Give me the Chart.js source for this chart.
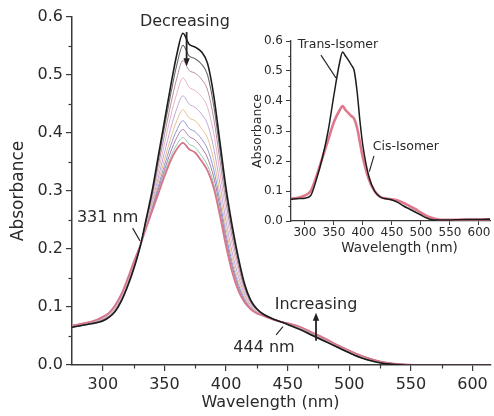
<!DOCTYPE html>
<html><head><meta charset="utf-8">
<script src="https://cdn.jsdelivr.net/npm/chart.js@4"></script>
<style>
html,body{margin:0;padding:0;background:#fff;}
#wrap{position:relative;width:494px;height:416px;overflow:hidden;}
#main{position:absolute;left:0;top:0;}
#inset{position:absolute;left:250px;top:20px;}
</style></head><body>
<div id="wrap"><canvas id="main" width="494" height="416"></canvas><canvas id="inset" width="244" height="245"></canvas></div>
<script>
// ---------- main panel data ----------
const wavelengths = [275,285,295,300,305,310,315,320,325,331,335,340,345,350,355,360,365,370,375,380,385,390,395,400,405,410,415,420,425,430,440,450,460,470,480,490,500,510,520,530,545,560,585,615];
const transSpec = [.065,.069,.073,.076,.082,.092,.110,.135,.165,.210,.250,.300,.360,.420,.480,.535,.572,.553,.548,.540,.520,.465,.385,.305,.240,.185,.140,.112,.097,.088,.078,.070,.061,.051,.041,.031,.021,.012,.006,.002,0,0,0,0];
const specA = [.065,.069,.074,.077,.083,.093,.111,.136,.166,.210,.248,.296,.353,.410,.466,.517,.551,.533,.528,.519,.500,.447,.371,.294,.231,.179,.136,.110,.096,.088,.078,.070,.062,.052,.042,.031,.021,.012,.006,.002,0,0,0,0];
const specB = [.066,.070,.074,.078,.084,.095,.113,.138,.168,.210,.246,.291,.344,.396,.448,.494,.525,.508,.503,.493,.474,.425,.353,.280,.220,.171,.132,.108,.095,.087,.078,.071,.062,.052,.042,.032,.022,.013,.007,.003,0,0,0,0];
const specC = [.066,.070,.075,.079,.085,.097,.115,.140,.170,.210,.244,.286,.333,.381,.428,.468,.495,.479,.473,.463,.444,.399,.333,.264,.207,.162,.127,.105,.094,.087,.078,.071,.063,.053,.043,.033,.023,.014,.007,.003,.001,0,0,0];
const specD = [.067,.071,.076,.080,.087,.098,.117,.142,.172,.210,.241,.280,.323,.366,.407,.442,.464,.450,.444,.433,.415,.374,.313,.248,.194,.153,.122,.103,.092,.086,.077,.071,.064,.054,.044,.033,.023,.014,.008,.003,.001,0,0,0];
const specE = [.067,.071,.077,.081,.088,.100,.118,.144,.173,.210,.240,.276,.315,.354,.390,.421,.440,.426,.421,.408,.391,.353,.296,.235,.184,.145,.118,.101,.091,.086,.077,.071,.065,.055,.045,.034,.024,.015,.008,.003,.001,0,0,0];
const specF = [.067,.071,.077,.082,.088,.101,.120,.145,.175,.210,.238,.272,.308,.344,.378,.405,.421,.408,.402,.390,.372,.337,.283,.225,.176,.139,.114,.099,.091,.086,.077,.072,.065,.055,.045,.034,.024,.015,.008,.004,.001,0,0,0];
const specG = [.068,.072,.077,.082,.089,.102,.121,.146,.176,.210,.237,.269,.303,.336,.367,.392,.406,.394,.388,.375,.357,.324,.273,.217,.170,.135,.112,.098,.090,.085,.077,.072,.065,.055,.045,.035,.025,.016,.009,.004,.001,0,0,0];
const specH = [.068,.072,.078,.083,.090,.102,.121,.147,.176,.210,.236,.267,.298,.330,.358,.380,.392,.381,.375,.361,.344,.313,.264,.210,.164,.131,.110,.097,.089,.085,.077,.072,.066,.056,.046,.035,.025,.016,.009,.004,.001,0,0,0];
const cisSpec = [.068,.072,.078,.083,.090,.103,.122,.148,.177,.210,.235,.265,.295,.325,.352,.372,.383,.372,.366,.352,.335,.305,.258,.205,.160,.128,.108,.096,.089,.085,.077,.072,.066,.056,.046,.035,.025,.016,.009,.004,.001,0,0,0];

const mainXTicks = [300,350,400,450,500,550,600];
const mainXMinor = [325,375,425,475,525,575];
const mainYTicks = [0,0.1,0.2,0.3,0.4,0.5,0.6];
const mainYMinor = [0.05,0.15,0.25,0.35,0.45,0.55];

// ---------- inset data ----------
const insetWl = [275,290,300,310,320,330,340,350,360,365,370,380,385,390,395,400,410,420,430,440,450,460,470,480,490,500,510,520,530,540,560,580,600,620];
const insetTrans = [.072,.075,.076,.085,.140,.210,.300,.420,.530,.563,.550,.520,.500,.430,.330,.250,.150,.100,.080,.074,.070,.062,.050,.040,.030,.020,.010,.004,.003,.003,.004,.005,.005,.006];
const insetCis = [.075,.078,.085,.100,.150,.210,.270,.330,.370,.383,.370,.350,.340,.310,.260,.210,.140,.100,.080,.075,.072,.068,.060,.050,.040,.028,.017,.010,.005,.004,.004,.005,.005,.006];
const insetXTicks = [300,350,400,450,500,550,600];
const insetYTicks = [0,0.1,0.2,0.3,0.4,0.5,0.6];
const insetYMinor = [0.05,0.15,0.25,0.35,0.45,0.55];

// ---------- annotations (data coordinates) ----------
const mainLabels = [
  {text:'Decreasing', x:366.6, y:0.591, align:'center'},
  {text:'331 nm', x:279, y:0.253, align:'left'},
  {text:'Increasing', x:473, y:0.103, align:'center'},
  {text:'444 nm', x:430.8, y:0.029, align:'center'}
];
const mainArrows = [
  {x1:368, y1:0.574, x2:368, y2:0.515, head:true},
  {x1:473, y1:0.042, x2:473, y2:0.09, head:true},
  {x1:324.2, y1:0.236, x2:330.2, y2:0.214, head:false},
  {x1:440.6, y1:0.052, x2:446.2, y2:0.066, head:false}
];
const insetLabels = [
  {text:'Trans-Isomer', x:357, y:0.587, align:'center'},
  {text:'Cis-Isomer', x:474, y:0.247, align:'center'}
];
const insetArrows = [
  {x1:327.6, y1:0.553, x2:353.4, y2:0.477, head:false},
  {x1:419, y1:0.217, x2:411, y2:0.165, head:false}
];

const FONT = "'DejaVu Sans', sans-serif";
const AX = '#3a3a3a';
const TXT = '#2a2a2a';

function pts(xs, ys){ return xs.map((x,i)=>({x:x, y:ys[i]})); }

const overlayPlugin = {
  id:'overlay',
  afterDraw(chart){
    const o = chart.options.plugins.overlay; if(!o) return;
    const ctx = chart.ctx, xs = chart.scales.x, ys = chart.scales.y;
    ctx.save();
    ctx.strokeStyle = AX; ctx.lineWidth = 1.2;
    (o.xMinor||[]).forEach(v=>{ const px = Math.round(xs.getPixelForValue(v))+0.5;
      ctx.beginPath(); ctx.moveTo(px, ys.bottom); ctx.lineTo(px, ys.bottom+o.minorLen); ctx.stroke(); });
    (o.yMinor||[]).forEach(v=>{ const py = Math.round(ys.getPixelForValue(v))+0.5;
      ctx.beginPath(); ctx.moveTo(xs.left, py); ctx.lineTo(xs.left-o.minorLen, py); ctx.stroke(); });
    ctx.fillStyle = TXT;
    ctx.textBaseline = 'middle';
    // x-axis title
    ctx.font = o.xTitleSize + 'px ' + FONT;
    ctx.textAlign = 'center';
    ctx.fillText(o.xTitle, (xs.left + xs.right)/2 + o.xTitleShift, o.xTitleY);
    ctx.font = o.fontSize + 'px ' + FONT;
    o.labels.forEach(l=>{ ctx.textAlign = l.align;
      ctx.fillText(l.text, xs.getPixelForValue(l.x), ys.getPixelForValue(l.y)); });
    ctx.strokeStyle = '#222'; ctx.fillStyle = '#222';
    o.arrows.forEach(a=>{
      const x1 = xs.getPixelForValue(a.x1), y1 = ys.getPixelForValue(a.y1);
      const x2 = xs.getPixelForValue(a.x2), y2 = ys.getPixelForValue(a.y2);
      ctx.lineWidth = a.head ? 1.8 : 1.1;
      const ang = Math.atan2(y2-y1, x2-x1);
      const hl = a.head ? 8 : 0;
      ctx.beginPath(); ctx.moveTo(x1,y1); ctx.lineTo(x2 - Math.cos(ang)*hl*0.6, y2 - Math.sin(ang)*hl*0.6); ctx.stroke();
      if(a.head){
        ctx.beginPath();
        ctx.moveTo(x2,y2);
        ctx.lineTo(x2 - Math.cos(ang)*hl + Math.sin(ang)*3.2, y2 - Math.sin(ang)*hl - Math.cos(ang)*3.2);
        ctx.lineTo(x2 - Math.cos(ang)*hl - Math.sin(ang)*3.2, y2 - Math.sin(ang)*hl + Math.cos(ang)*3.2);
        ctx.closePath(); ctx.fill();
      }
    });
    ctx.restore();
  }
};

function ds(data, color, width, order){
  return {data:pts(wavelengths, data), borderColor:color, borderWidth:width, pointRadius:0,
          cubicInterpolationMode:'monotone', fill:false, order:order};
}

new Chart(document.getElementById('main'), {
  type:'line',
  data:{datasets:[
    ds(transSpec,'#1c1c1c',1.6,0),
    ds(cisSpec,'#d6768a',1.8,1),
    ds(specA,'#6a6a6a',1.1,2),
    ds(specB,'#b98aa0',1,3),
    ds(specC,'#e3b3c4',1,4),
    ds(specD,'#c2a6d8',1,5),
    ds(specE,'#e6c08e',1,6),
    ds(specF,'#8e96cc',1,7),
    ds(specG,'#a878a8',1,8),
    ds(specH,'#92c6a8',1,9)
  ]},
  options:{
    responsive:false, animation:false, devicePixelRatio:1,
    layout:{padding:{top:17,right:3,left:0,bottom:0}},
    plugins:{legend:{display:false}, tooltip:{enabled:false},
      overlay:{xMinor:mainXMinor, yMinor:mainYMinor, minorLen:3.5, labels:mainLabels, arrows:mainArrows, fontSize:16,
               xTitle:'Wavelength (nm)', xTitleSize:16, xTitleShift:-11, xTitleY:403}},
    scales:{
      x:{type:'linear', min:275, max:615,
        afterBuildTicks:s=>{s.ticks = mainXTicks.map(v=>({value:v}));},
        afterFit:s=>{s.height = 51;},
        ticks:{font:{family:FONT,size:16}, color:TXT, padding:4, autoSkip:false, maxRotation:0, callback:v=>String(v)},
        grid:{drawOnChartArea:false, drawTicks:true, tickLength:6, color:AX, lineWidth:1.2},
        border:{display:true, color:AX, width:1.5},
        title:{display:false}
      },
      y:{type:'linear', min:0, max:0.6,
        afterBuildTicks:s=>{s.ticks = mainYTicks.map(v=>({value:v}));},
        afterFit:s=>{s.width = 72;},
        ticks:{font:{family:FONT,size:16}, color:TXT, padding:3, callback:v=>v.toFixed(1)},
        grid:{drawOnChartArea:false, drawTicks:true, tickLength:6, color:AX, lineWidth:1.2},
        border:{display:true, color:AX, width:1.5},
        title:{display:true, text:'Absorbance', font:{family:FONT,size:17}, color:TXT, padding:{top:8,bottom:0}}
      }
    }
  },
  plugins:[overlayPlugin]
});

new Chart(document.getElementById('inset'), {
  type:'line',
  data:{datasets:[
    {data:pts(insetWl, insetTrans), borderColor:'#1c1c1c', borderWidth:1.5, pointRadius:0, cubicInterpolationMode:'monotone', order:0},
    {data:pts(insetWl, insetCis), borderColor:'#e0788c', borderWidth:2.6, pointRadius:0, cubicInterpolationMode:'monotone', order:1}
  ]},
  options:{
    responsive:false, animation:false, devicePixelRatio:1,
    layout:{padding:{top:21,right:4,left:0,bottom:0}},
    plugins:{legend:{display:false}, tooltip:{enabled:false},
      overlay:{xMinor:[], yMinor:insetYMinor, minorLen:2.5, labels:insetLabels, arrows:insetArrows, fontSize:12.5,
               xTitle:'Wavelength (nm)', xTitleSize:13.5, xTitleShift:9, xTitleY:228}},
    scales:{
      x:{type:'linear', min:276, max:619,
        afterBuildTicks:s=>{s.ticks = insetXTicks.map(v=>({value:v}));},
        afterFit:s=>{s.height = 44;},
        ticks:{font:{family:FONT,size:12}, color:TXT, padding:1, autoSkip:false, maxRotation:0, callback:v=>String(v)},
        grid:{drawOnChartArea:false, drawTicks:true, tickLength:4, color:AX, lineWidth:1},
        border:{display:true, color:AX, width:1.3},
        title:{display:false}
      },
      y:{type:'linear', min:0, max:0.6,
        afterBuildTicks:s=>{s.ticks = insetYTicks.map(v=>({value:v}));},
        afterFit:s=>{s.width = 41;},
        ticks:{font:{family:FONT,size:12}, color:TXT, padding:3, callback:v=>v.toFixed(1)},
        grid:{drawOnChartArea:false, drawTicks:true, tickLength:5, color:AX, lineWidth:1},
        border:{display:true, color:AX, width:1.3},
        title:{display:true, text:'Absorbance', font:{family:FONT,size:12.5}, color:TXT, padding:{top:0.5,bottom:0}}
      }
    }
  },
  plugins:[overlayPlugin]
});
</script>
</body></html>
